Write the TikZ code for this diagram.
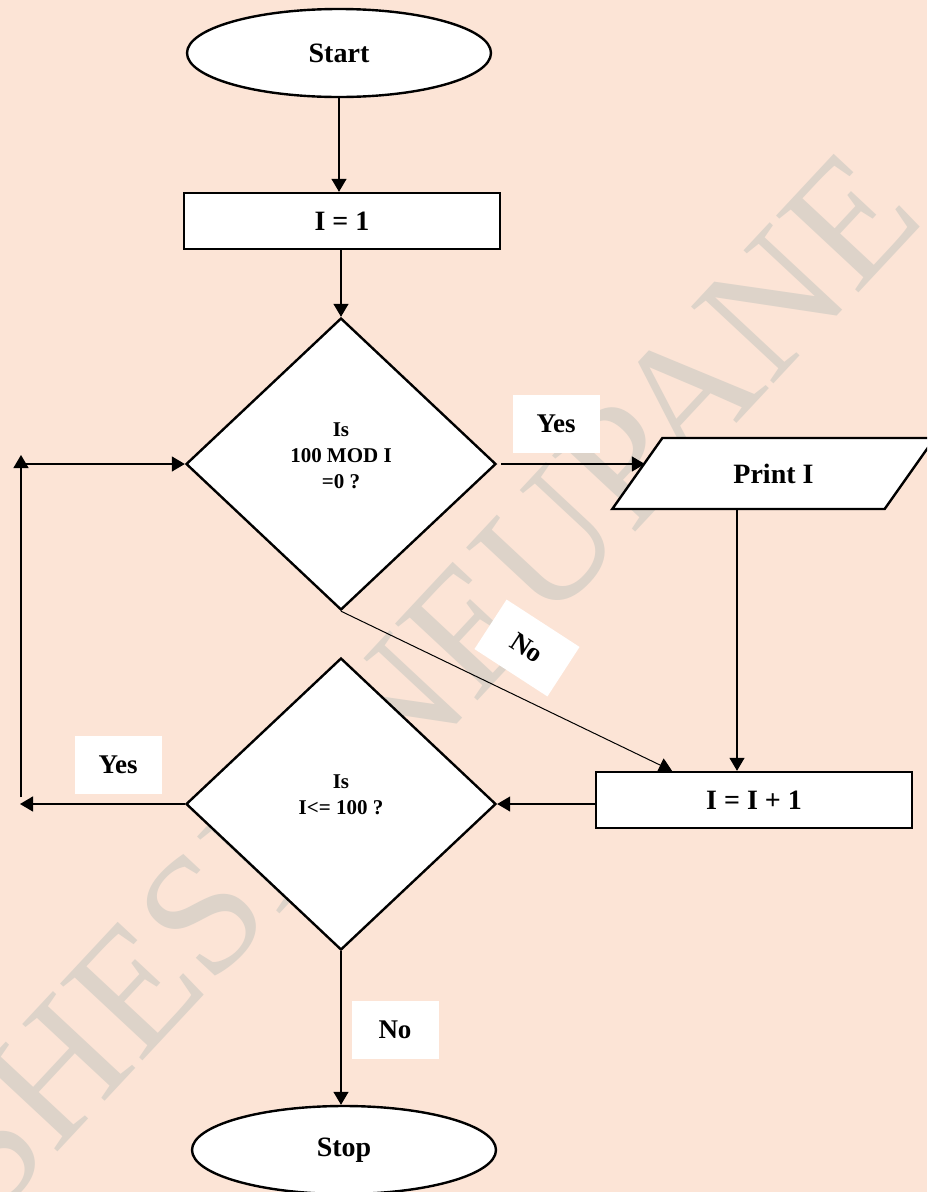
\documentclass[tikz,border=0pt]{standalone}
\usepackage{fontspec}
\setmainfont{Liberation Serif}
\usetikzlibrary{shapes.geometric,arrows.meta,calc}
\definecolor{bgc}{RGB}{252,228,214}
\definecolor{wmc}{RGB}{221,211,201}
\begin{document}
\begin{tikzpicture}[x=1pt,y=-1pt,
  shp/.style={draw=black, line width=2.4pt, fill=white, inner sep=0pt,
    font=\bfseries\fontsize{28}{33}\selectfont},
  qtxt/.style={align=center, inner sep=0pt, font=\bfseries\fontsize{21}{26}\selectfont},
  lbl/.style={fill=white, inner sep=0pt, minimum width=87pt, minimum height=58pt,
    font=\bfseries\fontsize{27}{32}\selectfont},
  conn/.style={line width=1.3pt, -{Triangle[length=13pt,width=15pt]}},
  wmark/.style={text=wmc, inner sep=0pt, font=\fontsize{172}{172}\selectfont}
]
\useasboundingbox (0,0) rectangle (927,1192);
\fill[bgc] (0,0) rectangle (927,1192);
\begin{scope}
\clip (0,0) rectangle (927,1192);
\node[wmark, rotate=47] (wm) at (417,684) {SHESH NEUPANE};

\node[shp, ellipse, minimum width=304pt, minimum height=88pt] (start) at (339,53) {Start};
\node[shp, rectangle, minimum width=316pt, minimum height=56pt] (init) at (342,221) {I = 1};
\node[shp, diamond, minimum width=310pt, minimum height=292pt] (d1) at (341,464) {};
\node[qtxt] (q1) at (341,456) {Is\\100 MOD I\\=0 ?};
\node[shp, trapezium, trapezium left angle=47.5, trapezium right angle=132.5,
  trapezium stretches=true, minimum width=323pt, minimum height=71pt] (pr) at (773.5,473.5) {Print I};
\node[shp, rectangle, minimum width=316pt, minimum height=56pt] (inc) at (754,800) {I = I + 1};
\node[shp, diamond, minimum width=310pt, minimum height=292pt] (d2) at (341,804) {};
\node[qtxt] (q2) at (341,795) {Is\\I<= 100 ?};
\node[shp, ellipse, minimum width=304pt, minimum height=88pt] (stop) at (344,1150) {Stop};

\node[lbl] (y1) at (556,424) {Yes};
\node[lbl, rotate=-33, minimum width=87pt, minimum height=59pt] (n1) at (527,648) {No};
\node[lbl] (y2) at (118,765) {Yes};
\node[lbl] (n2) at (395,1030) {No};

\coordinate (pd) at (737,0);
\coordinate (nx) at (672,0);
\coordinate (lp) at (20,804);
\coordinate (lb) at (21,797);
\coordinate (lt) at (21,455);
\coordinate (lh) at (25,464);

\draw[conn] (start.south) -- (start.south |- init.north);
\draw[conn] (init.south -| d1.north) -- (d1.north);
\draw[conn] ($(d1.east)+(4,0)$) -- ($(d1.east -| pr.west)+(9,0)$);
\draw[conn] (pd |- pr.south) -- (pd |- inc.north);
\draw[conn, line width=1pt] (d1.south) -- (nx |- inc.north);
\draw[conn] (inc.west |- d2.east) -- (d2.east);
\draw[conn] (d2.west) -- (lp);
\draw[conn] (lb) -- (lt);
\draw[conn] (lh) -- (d1.west);
\draw[conn] (d2.south) -- (d2.south |- stop.north);
\end{scope}
\end{tikzpicture}
\end{document}
